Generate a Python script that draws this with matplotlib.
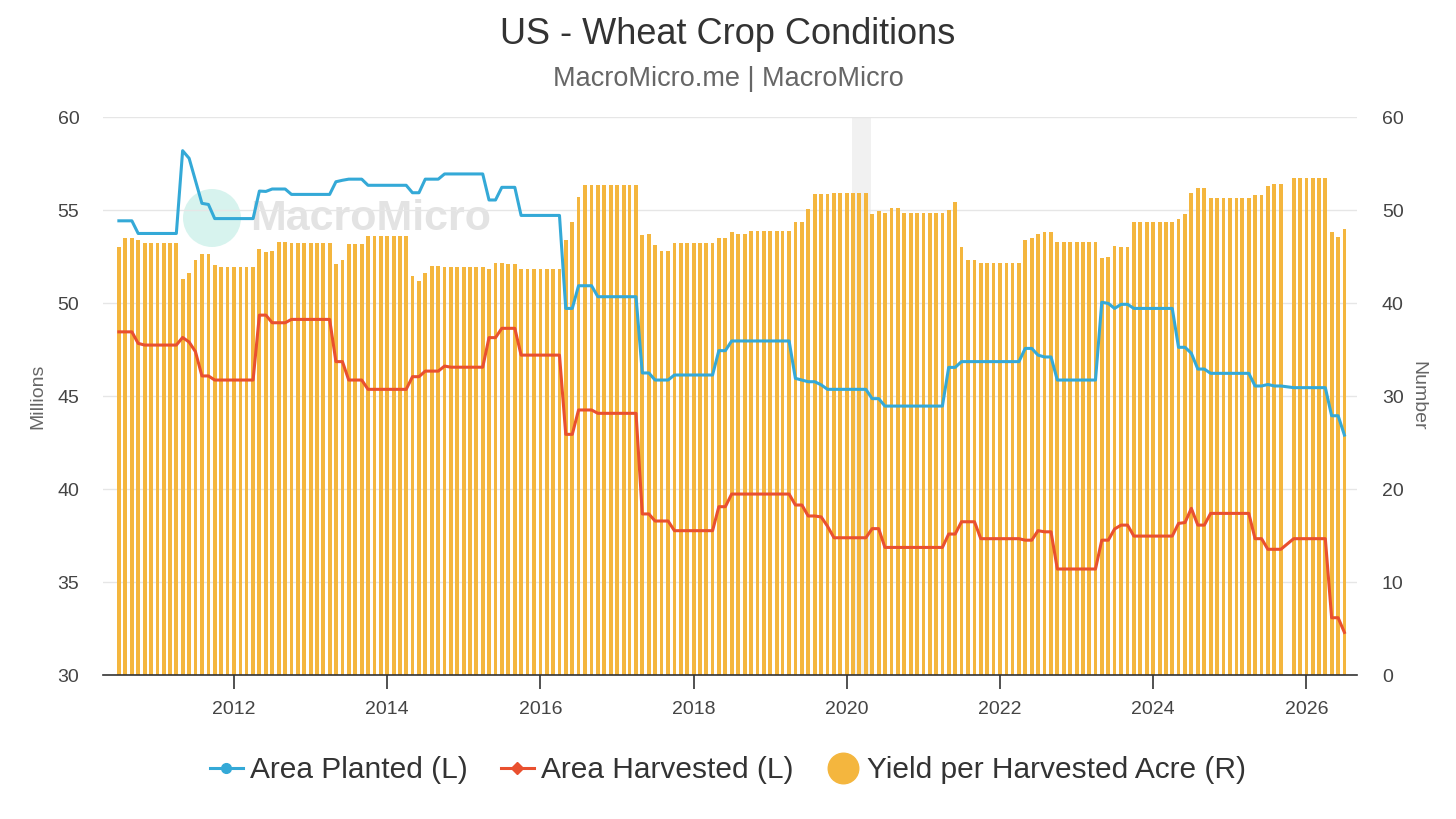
import matplotlib
matplotlib.use("Agg")
import matplotlib.pyplot as plt
from matplotlib.lines import Line2D
from matplotlib.patches import Circle
import numpy as np
import pandas as pd

# Monthly observations, Jul 2010 .. Jul 2026 (Oct 2025 missing)
dates = pd.date_range("2010-07-01", "2026-07-01", freq="MS")

N = None
area_planted = [
    54.42, 54.42, 54.42, 53.74, 53.74, 53.74,
    53.74, 53.74, 53.74, 53.74, 58.19, 57.78, 56.6, 55.36, 55.3, 54.54, 54.54, 54.54,
    54.54, 54.54, 54.54, 54.54, 56.02, 56.0, 56.13, 56.13, 56.13, 55.84, 55.84, 55.84,
    55.84, 55.84, 55.84, 55.84, 56.52, 56.6, 56.66, 56.66, 56.66, 56.33, 56.33, 56.33,
    56.33, 56.33, 56.33, 56.33, 55.93, 55.93, 56.66, 56.66, 56.66, 56.94, 56.94, 56.94,
    56.94, 56.94, 56.94, 56.94, 55.54, 55.54, 56.22, 56.22, 56.22, 54.71, 54.71, 54.71,
    54.71, 54.71, 54.71, 54.71, 49.71, 49.71, 50.93, 50.93, 50.93, 50.34, 50.34, 50.34,
    50.34, 50.34, 50.34, 50.34, 46.24, 46.24, 45.86, 45.86, 45.86, 46.13, 46.13, 46.13,
    46.13, 46.13, 46.13, 46.13, 47.44, 47.44, 47.96, 47.96, 47.96, 47.96, 47.96, 47.96,
    47.96, 47.96, 47.96, 47.96, 45.95, 45.86, 45.77, 45.77, 45.6, 45.36, 45.36, 45.36,
    45.36, 45.36, 45.36, 45.36, 44.86, 44.86, 44.46, 44.46, 44.46, 44.46, 44.46, 44.46,
    44.46, 44.46, 44.46, 44.46, 46.54, 46.54, 46.85, 46.85, 46.85, 46.85, 46.85, 46.85,
    46.85, 46.85, 46.85, 46.85, 47.56, 47.56, 47.2, 47.1, 47.1, 45.86, 45.86, 45.86,
    45.86, 45.86, 45.86, 45.86, 50.04, 49.98, 49.71, 49.93, 49.93, 49.71, 49.71, 49.71,
    49.71, 49.71, 49.71, 49.71, 47.62, 47.62, 47.3, 46.45, 46.45, 46.22, 46.22, 46.22,
    46.22, 46.22, 46.22, 46.22, 45.54, 45.54, 45.62, 45.54, 45.54, N, 45.45, 45.45,
    45.45, 45.45, 45.45, 45.45, 43.94, 43.94, 42.9,
]

area_harvested = [
    48.45, 48.45, 48.45, 47.83, 47.74, 47.74,
    47.74, 47.74, 47.74, 47.74, 48.15, 47.9, 47.39, 46.08, 46.08, 45.86, 45.86, 45.86,
    45.86, 45.86, 45.86, 45.86, 49.35, 49.35, 48.94, 48.94, 48.94, 49.12, 49.12, 49.12,
    49.12, 49.12, 49.12, 49.12, 46.85, 46.85, 45.86, 45.86, 45.86, 45.36, 45.36, 45.36,
    45.36, 45.36, 45.36, 45.36, 46.04, 46.04, 46.34, 46.34, 46.34, 46.61, 46.55, 46.55,
    46.55, 46.55, 46.55, 46.55, 48.14, 48.14, 48.64, 48.64, 48.64, 47.2, 47.2, 47.2,
    47.2, 47.2, 47.2, 47.2, 42.94, 42.94, 44.25, 44.25, 44.25, 44.07, 44.07, 44.07,
    44.07, 44.07, 44.07, 44.07, 38.66, 38.66, 38.28, 38.28, 38.28, 37.76, 37.76, 37.76,
    37.76, 37.76, 37.76, 37.76, 39.05, 39.05, 39.73, 39.73, 39.73, 39.73, 39.73, 39.73,
    39.73, 39.73, 39.73, 39.73, 39.14, 39.14, 38.55, 38.55, 38.5, 38.0, 37.38, 37.38,
    37.38, 37.38, 37.38, 37.38, 37.87, 37.87, 36.86, 36.86, 36.86, 36.86, 36.86, 36.86,
    36.86, 36.86, 36.86, 36.86, 37.58, 37.58, 38.24, 38.24, 38.24, 37.33, 37.33, 37.33,
    37.33, 37.33, 37.33, 37.33, 37.25, 37.25, 37.76, 37.7, 37.7, 35.7, 35.7, 35.7,
    35.7, 35.7, 35.7, 35.7, 37.25, 37.25, 37.85, 38.06, 38.06, 37.47, 37.47, 37.47,
    37.47, 37.47, 37.47, 37.47, 38.15, 38.2, 38.96, 38.06, 38.06, 38.69, 38.69, 38.69,
    38.69, 38.69, 38.69, 38.69, 37.33, 37.33, 36.76, 36.76, 36.76, N, 37.33, 37.33,
    37.33, 37.33, 37.33, 37.33, 33.08, 33.08, 32.29,
]

yield_per_acre = [
    45.99, 46.95, 46.95, 46.77, 46.42, 46.42,
    46.42, 46.42, 46.42, 46.42, 42.54, 43.19, 44.62, 45.27, 45.27, 44.05, 43.84, 43.84,
    43.84, 43.84, 43.84, 43.84, 45.77, 45.45, 45.63, 46.6, 46.6, 46.49, 46.42, 46.42,
    46.42, 46.42, 46.42, 46.42, 44.19, 44.62, 46.31, 46.31, 46.31, 47.24, 47.24, 47.24,
    47.24, 47.24, 47.24, 47.24, 42.9, 42.4, 43.19, 44.01, 44.01, 43.84, 43.84, 43.84,
    43.84, 43.84, 43.84, 43.84, 43.66, 44.34, 44.34, 44.19, 44.19, 43.66, 43.66, 43.66,
    43.66, 43.66, 43.66, 43.66, 46.77, 48.75, 51.36, 52.65, 52.65, 52.65, 52.65, 52.65,
    52.65, 52.65, 52.65, 52.65, 47.28, 47.42, 46.27, 45.63, 45.63, 46.42, 46.42, 46.42,
    46.42, 46.42, 46.42, 46.42, 46.95, 46.95, 47.6, 47.42, 47.42, 47.78, 47.78, 47.78,
    47.78, 47.78, 47.78, 47.78, 48.75, 48.75, 50.07, 51.68, 51.68, 51.68, 51.86, 51.86,
    51.86, 51.86, 51.86, 51.86, 49.57, 49.93, 49.71, 50.18, 50.18, 49.71, 49.71, 49.71,
    49.71, 49.71, 49.71, 49.71, 50.0, 50.82, 45.99, 44.62, 44.62, 44.34, 44.34, 44.34,
    44.34, 44.34, 44.34, 44.34, 46.77, 46.95, 47.42, 47.6, 47.6, 46.6, 46.6, 46.6,
    46.6, 46.6, 46.6, 46.6, 44.8, 44.98, 46.13, 45.99, 45.99, 48.71, 48.71, 48.71,
    48.71, 48.71, 48.71, 48.71, 49.07, 49.53, 51.79, 52.33, 52.33, 51.33, 51.33, 51.33,
    51.33, 51.33, 51.33, 51.33, 51.61, 51.61, 52.62, 52.8, 52.8, N, 53.44, 53.44,
    53.44, 53.44, 53.44, 53.44, 47.6, 47.1, 47.92,
]

left_ticks = [30, 35, 40, 45, 50, 55, 60]
right_ticks = [0, 10, 20, 30, 40, 50, 60]
year_ticks = [2012, 2014, 2016, 2018, 2020, 2022, 2024, 2026]

assert len(dates) == len(area_planted) == len(area_harvested) == len(yield_per_acre)

def valid(series):
    s = pd.Series([np.nan if v is None else v for v in series], index=dates, dtype=float)
    return s.dropna()

planted = valid(area_planted)
harvested = valid(area_harvested)
yld = valid(yield_per_acre)

C_BLUE = "#34A9D7"
C_RED = "#E9502F"
C_BAR = "#F4B63E"
TXT = "#333333"
TICK = "#444444"
SUB = "#666666"

plt.rcParams["font.family"] = ["Liberation Sans", "DejaVu Sans"]

fig = plt.figure(figsize=(14.56, 8.19), dpi=100)
ax2 = fig.add_axes([0.0707, 0.1758, 0.8613, 0.6813])
ax2.patch.set_facecolor("none")
ax = ax2.twinx()

# watermark (behind the chart)
fig.patches.append(Circle((2.12, 8.19 - 2.18), 0.29, transform=fig.dpi_scale_trans,
                          facecolor="#cdf1ea", edgecolor="none", alpha=0.8, zorder=-2))
fig.text(250 / 1456, 1 - 219 / 819, "MacroMicro", fontsize=31, fontweight="bold",
         color="#e3e3e3", va="center", ha="left", zorder=-1)

# hover band (highlight)
ctr = dates[116] + pd.Timedelta(days=9)
ax2.axvspan(ctr - pd.Timedelta(days=45), ctr + pd.Timedelta(days=45),
            color="#f1f1f1", zorder=0, lw=0)

ax2.bar(yld.index, yld.values, width=18, color=C_BAR, zorder=2, align="center")
ax2.set_ylim(0, 60)
ax2.set_yticks(right_ticks)
ax2.yaxis.tick_right()
ax2.yaxis.set_label_position("right")
ax2.grid(axis="y", color="#e6e6e6", lw=1, zorder=1)
ax2.set_axisbelow(True)

ax.plot(planted.index, planted.values, color=C_BLUE, lw=2.2, zorder=5)
ax.plot(harvested.index, harvested.values, color=C_RED, lw=2.2, zorder=5)
ax.set_ylim(30, 60)
ax.set_yticks(left_ticks)
ax.yaxis.tick_left()
ax.yaxis.set_label_position("left")

xmin = dates[0] - pd.Timedelta(days=76)
xmax = dates[-1] + pd.Timedelta(days=60)
ax.set_xlim(xmin, xmax)
ax2.set_xlim(xmin, xmax)
ax2.set_xticks([pd.Timestamp(f"{y}-01-01") for y in year_ticks])
ax2.set_xticklabels([str(y) for y in year_ticks])

for a in (ax, ax2):
    for s in ("top", "left", "right", "bottom"):
        a.spines[s].set_visible(False)
ax2.spines["bottom"].set_visible(True)
ax2.spines["bottom"].set_color("#333333")
ax2.spines["bottom"].set_linewidth(1.2)

ax.tick_params(axis="y", length=0, pad=17, labelsize=14, labelcolor=TICK)
ax2.tick_params(axis="y", length=0, pad=18, labelsize=14, labelcolor=TICK)
ax2.tick_params(axis="x", direction="out", length=10, width=1.2, color="#333333",
                pad=9, labelsize=14, labelcolor=TICK)
ax.tick_params(axis="x", length=0, labelbottom=False)

ax.set_ylabel("Millions", fontsize=14, color=SUB, labelpad=8)
ax2.set_ylabel("Number", fontsize=14, color=SUB, rotation=270, labelpad=16)

fig.text(0.5, 1 - 34 / 819, "US - Wheat Crop Conditions", fontsize=26, color=TXT,
         ha="center", va="center")
fig.text(0.5, 1 - 79 / 819, "MacroMicro.me | MacroMicro", fontsize=19.5, color=SUB,
         ha="center", va="center")

handles = [
    Line2D([0], [0], color=C_BLUE, lw=2.2, marker="o", markersize=7),
    Line2D([0], [0], color=C_RED, lw=2.2, marker="D", markersize=6),
    Line2D([0], [0], color=C_BAR, lw=0, marker="o", markersize=22),
]
labels = ["Area Planted (L)", "Area Harvested (L)", "Yield per Harvested Acre (R)"]
fig.legend(handles, labels, loc="center", bbox_to_anchor=(0.5, 1 - 770 / 819), ncol=3,
           frameon=False, fontsize=21.5, labelcolor=TXT, handlelength=1.1,
           handletextpad=0.25, columnspacing=1.1)

fig.savefig("out.png", dpi=100)
